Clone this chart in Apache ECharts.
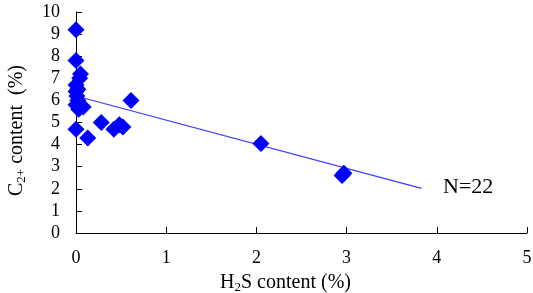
<!DOCTYPE html>
<html>
<head>
<meta charset="utf-8">
<script src="https://cdn.jsdelivr.net/npm/echarts@6/dist/echarts.min.js"></script>
<style>
  html, body { margin: 0; padding: 0; background: #fff; }
  #chart { width: 533px; height: 293px; }
</style>
</head>
<body>
<div id="chart"></div>
<script>
// H2S content (%) vs C2+ content (%)
const h2s = [0, 0, 0.05, 0.04, 0, 0.02, 0, 0.01, 0.02, 0, 0.03, 0.08, 0, 0.13, 0.28, 0.42, 0.48, 0.52, 0.61, 2.05, 2.95, 2.97]
const c2 = [9.2, 7.8, 7.2, 7.0, 6.7, 6.5, 6.4, 6.2, 6.0, 5.8, 5.6, 5.7, 4.7, 4.3, 5.0, 4.7, 4.9, 4.8, 6.0, 4.05, 2.6, 2.7]
// regression line end points
const fitX = [0, 3.83]
const fitY = [6.2, 2.02]
const xTicks = [0, 1, 2, 3, 4, 5]
const yTicks = [0, 1, 2, 3, 4, 5, 6, 7, 8, 9, 10]

const font = 'Liberation Serif'
const chart = echarts.init(document.getElementById('chart'))

const axisCommon = {
  axisLine: { show: true, lineStyle: { color: '#000', width: 1 } },
  axisTick: { show: true, inside: true, length: 6, lineStyle: { color: '#000' } },
  splitLine: { show: false },
  axisLabel: { color: '#000', fontFamily: font, fontSize: 18 }
}

const nameRich = {
  n: { fontFamily: font, fontSize: 20, color: '#000', lineHeight: 22 },
  s: { fontFamily: font, fontSize: 13, color: '#000', lineHeight: 22, padding: [9, 0, 0, 0] }
}

chart.setOption({
  animation: false,
  grid: { left: 76, right: 6, top: 12, bottom: 60, outerBoundsMode: 'none' },
  xAxis: {
    ...axisCommon,
    type: 'value',
    min: xTicks[0],
    max: xTicks[xTicks.length - 1],
    interval: 1,
    axisLabel: { ...axisCommon.axisLabel, margin: 16 },
    name: '{n|H}{s|2}{n|S content (%)}',
    nameLocation: 'middle',
    nameGap: 31,
    nameTextStyle: { rich: nameRich, padding: [0, 32, 0, 0] }
  },
  yAxis: {
    ...axisCommon,
    type: 'value',
    min: yTicks[0],
    max: yTicks[yTicks.length - 1],
    interval: 1,
    axisLabel: { ...axisCommon.axisLabel, margin: 16 },
    name: '{n|C}{s|2+}{n| content  (%)}',
    nameLocation: 'middle',
    nameRotate: 90,
    nameGap: 48,
    nameTextStyle: { rich: nameRich, padding: [0, 16, 0, 0] }
  },
  series: [
    {
      type: 'line',
      data: fitX.map((x, i) => [x, fitY[i]]),
      showSymbol: false,
      symbol: 'none',
      lineStyle: { color: '#3b3bff', width: 1.2 },
      z: 1
    },
    {
      type: 'scatter',
      data: h2s.map((x, i) => [x, c2[i]]),
      symbol: 'diamond',
      symbolSize: 17,
      itemStyle: { color: '#0000ff', opacity: 1 },
      z: 2
    }
  ],
  graphic: [
    {
      type: 'text',
      left: 443,
      top: 176,
      style: { text: 'N=22', font: '22px "Liberation Serif"', fill: '#000' }
    }
  ]
})
</script>
</body>
</html>
